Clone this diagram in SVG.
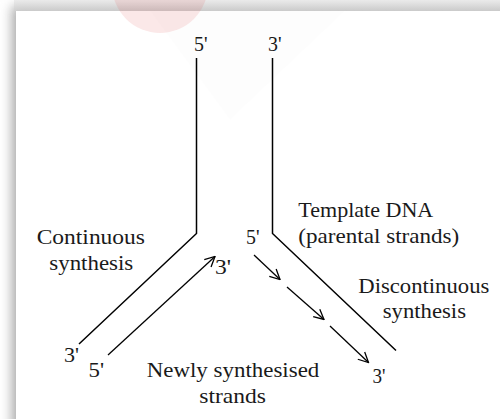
<svg xmlns="http://www.w3.org/2000/svg" width="500" height="419" viewBox="0 0 500 419">
<style>
  text { font-family: "Liberation Serif", "Times New Roman", serif; font-size: 22px; fill: #1a1a1a; }
  .strand { fill: none; stroke: #000; stroke-width: 1.5; }
  .arrow { fill: none; stroke: #000; stroke-width: 1.3; marker-end: url(#open); }
</style>
<defs>
  <filter id="shadow" x="-10%" y="-10%" width="120%" height="120%">
    <feGaussianBlur stdDeviation="6"/>
  </filter>
  <linearGradient id="topband" x1="0" y1="0" x2="0" y2="1">
    <stop offset="0" stop-color="#e8e8e8"/>
    <stop offset="1" stop-color="#cfcfcf"/>
  </linearGradient>
  <marker id="open" viewBox="0 0 12 12" refX="11" refY="6" markerWidth="12" markerHeight="12" markerUnits="userSpaceOnUse" orient="auto">
    <path d="M1,1 L11,6 L1,11" fill="none" stroke="#000" stroke-width="1.3"/>
  </marker>
</defs>
<rect width="500" height="419" fill="#ffffff"/>
<rect x="12" y="6" width="520" height="440" fill="#a8a8a8" filter="url(#shadow)"/>
<rect x="14" y="0" width="486" height="11" fill="url(#topband)" opacity="0.8"/>
<rect x="16" y="11" width="484" height="408" fill="#ffffff"/>
<polygon points="150,11 345,11 230,120" fill="#000" opacity="0.008"/>
<circle cx="160" cy="-15" r="48" fill="#e04040" opacity="0.12"/>

<g id="connectors">
  <polyline id="leading-template" class="strand" points="196.5,58 196.5,233.5 79,344"/>
  <polyline id="lagging-template" class="strand" points="272.5,58 272.5,233.5 396,350.5"/>
  <line id="leading-new" class="arrow" x1="108" y1="355" x2="215" y2="256.5"/>
  <line id="okazaki-1" class="arrow" x1="254" y1="255" x2="280" y2="279.5"/>
  <line id="okazaki-2" class="arrow" x1="287" y1="287" x2="324" y2="319.5"/>
  <line id="okazaki-3" class="arrow" x1="330" y1="326" x2="368.5" y2="362.5"/>
</g>

<g id="end-labels">
  <text x="194" y="51" textLength="13.5" lengthAdjust="spacingAndGlyphs">5'</text>
  <text x="268" y="51" textLength="13.5" lengthAdjust="spacingAndGlyphs">3'</text>
  <text x="215" y="274" textLength="16" lengthAdjust="spacingAndGlyphs">3'</text>
  <text x="64" y="361.5" textLength="15" lengthAdjust="spacingAndGlyphs">3'</text>
  <text x="88.5" y="376.5" textLength="15.5" lengthAdjust="spacingAndGlyphs">5'</text>
  <text x="246" y="243.5" textLength="13.5" lengthAdjust="spacingAndGlyphs">5'</text>
  <text x="372.5" y="382.5" textLength="13" lengthAdjust="spacingAndGlyphs">3'</text>
</g>

<g id="continuous-label">
  <text x="36.7" y="244" textLength="108.3" lengthAdjust="spacingAndGlyphs">Continuous</text>
  <text x="49.3" y="270" textLength="84" lengthAdjust="spacingAndGlyphs">synthesis</text>
</g>

<g id="template-label">
  <text x="298.3" y="217.3" textLength="135" lengthAdjust="spacingAndGlyphs">Template DNA</text>
  <text x="298.3" y="243.3" textLength="161" lengthAdjust="spacingAndGlyphs">(parental strands)</text>
</g>

<g id="discontinuous-label">
  <text x="358.3" y="293.3" textLength="131" lengthAdjust="spacingAndGlyphs">Discontinuous</text>
  <text x="382.7" y="318.3" textLength="83.3" lengthAdjust="spacingAndGlyphs">synthesis</text>
</g>

<g id="new-strands-label">
  <text x="146.7" y="376.7" textLength="172.6" lengthAdjust="spacingAndGlyphs">Newly synthesised</text>
  <text x="199.3" y="403.3" textLength="66.7" lengthAdjust="spacingAndGlyphs">strands</text>
</g>
</svg>
